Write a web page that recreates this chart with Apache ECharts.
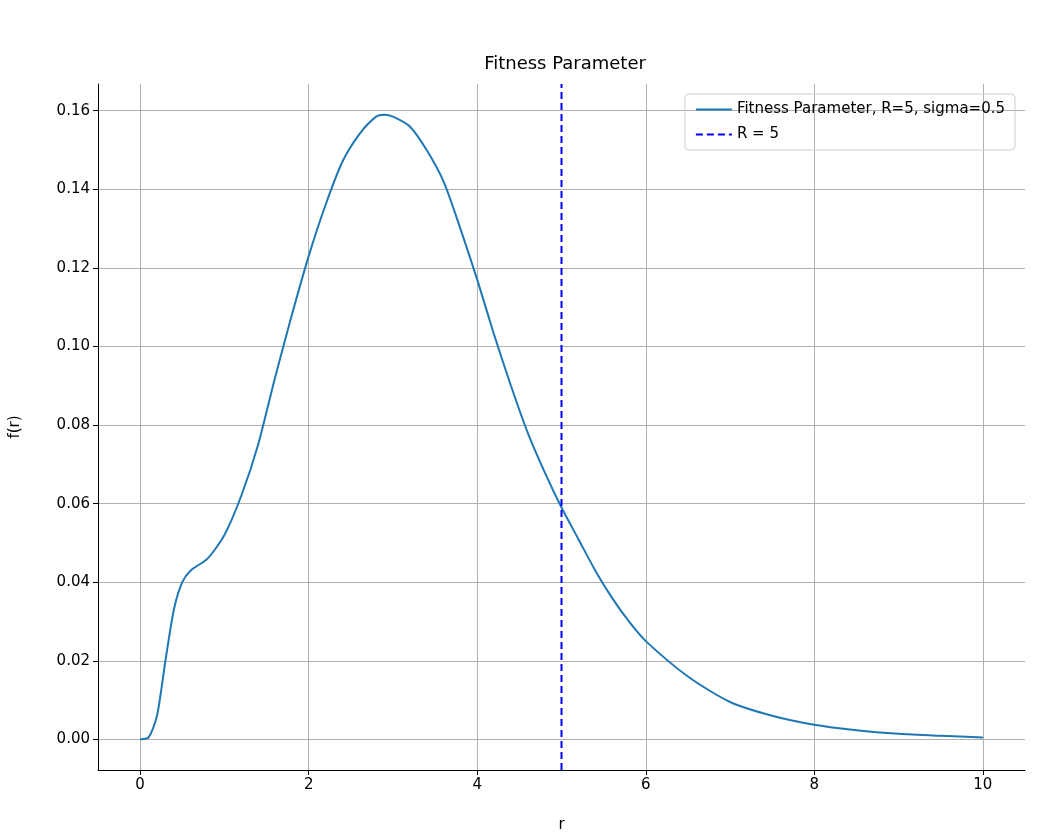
<!DOCTYPE html>
<html lang="en">
<head>
    <meta charset="UTF-8">
    <title>Fitness Parameter</title>
    <script src="https://cdn.jsdelivr.net/npm/echarts@6/dist/echarts.min.js"></script>
</head>
<body style="margin:0">
    <div id="myChart" style="width: 1048px; height: 838px;"></div>
    <script>
        // values
        const rValues = [0, 0.1, 0.2, 0.3, 0.4, 0.5, 0.6, 0.8, 1.0, 1.2, 1.4, 1.6, 1.8, 2.0, 2.2, 2.4, 2.6, 2.8, 2.9, 3.0, 3.2, 3.4, 3.6, 3.8, 4.0, 4.2, 4.4, 4.6, 4.8, 5.0, 5.2, 5.4, 5.6, 5.8, 6.0, 6.5, 7.0, 7.5, 8.0, 8.5, 9.0, 9.5, 10];
        const fValues = [0, 0.0005, 0.006, 0.02, 0.033, 0.040, 0.043, 0.046, 0.052, 0.062, 0.075, 0.092, 0.108, 0.123, 0.136, 0.147, 0.154, 0.1585, 0.159, 0.1585, 0.156, 0.150, 0.142, 0.130, 0.117, 0.103, 0.090, 0.078, 0.068, 0.059, 0.051, 0.043, 0.036, 0.030, 0.025, 0.016, 0.0095, 0.006, 0.0037, 0.0023, 0.0014, 0.0009, 0.0005];
        const xTicks = [0, 2, 4, 6, 8, 10];
        const yTicks = [0, 0.02, 0.04, 0.06, 0.08, 0.10, 0.12, 0.14, 0.16];
        const R = 5;
        const yMin = -0.0078, yMax = 0.1668;

        const myChart = echarts.init(document.getElementById('myChart'));
        const font = 'DejaVu Sans';
        function axisOpts(ticks, fmt) {
            return {
                type: 'value',
                axisLine: { onZero: false, lineStyle: { color: '#000' } },
                axisTick: { customValues: ticks, lineStyle: { color: '#000' }, length: 5 },
                axisLabel: { customValues: ticks, formatter: fmt, color: '#000', fontSize: 15, fontFamily: font },
                splitLine: { show: true, customValues: ticks, lineStyle: { color: '#b0b0b0', width: 1 } },
                nameTextStyle: { color: '#000', fontSize: 15, fontFamily: font }
            };
        }

        myChart.setOption({
            animation: false,
            title: {
                text: 'Fitness Parameter', left: 560, top: 50, textAlign: 'center',
                textStyle: { fontSize: 18, fontWeight: 'normal', fontFamily: font, color: '#000' }
            },
            grid: { left: 95, right: 23, top: 84, bottom: 62 },
            legend: {
                right: 33, top: 94, orient: 'vertical', itemWidth: 36, itemGap: 10,
                itemStyle: { opacity: 0 },
                borderColor: '#ccc', borderWidth: 1, borderRadius: 4, padding: [8, 10],
                textStyle: { fontSize: 15, fontFamily: font, color: '#000' }
            },
            xAxis: Object.assign(axisOpts(xTicks, v => String(v)), {
                min: -0.5, max: 10.5, name: 'r', nameLocation: 'middle', nameGap: 48
            }),
            yAxis: Object.assign(axisOpts(yTicks, v => v.toFixed(2)), {
                min: yMin, max: yMax, name: 'f(r)', nameLocation: 'middle', nameGap: 75
            }),
            series: [
                {
                    name: 'Fitness Parameter, R=5, sigma=0.5', type: 'line', smooth: 0.25,
                    symbol: 'none', lineStyle: { color: '#1f77b4', width: 2 }, itemStyle: { color: '#1f77b4' },
                    data: rValues.map((r, i) => [r, fValues[i]])
                },
                {
                    name: 'R = 5', type: 'line', symbol: 'none',
                    lineStyle: { color: '#0000ff', width: 2, type: [7, 4] }, itemStyle: { color: '#0000ff' },
                    data: [[R, yMin], [R, yMax]]
                }
            ]
        });
    </script>
</body>
</html>
